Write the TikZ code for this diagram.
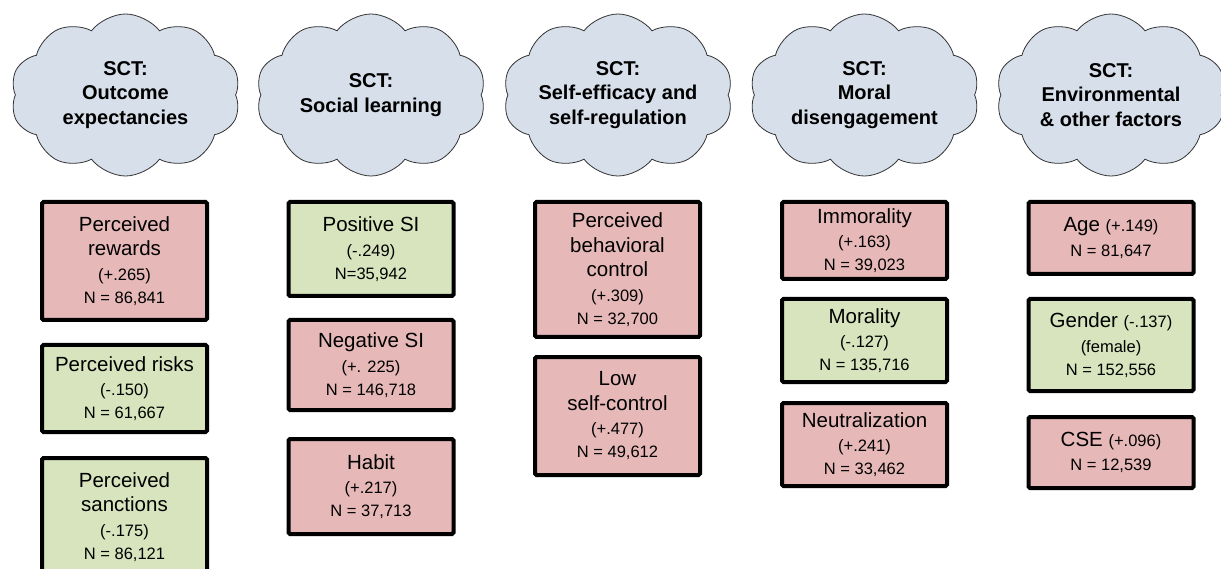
\documentclass[tikz,border=0pt]{standalone}
\usepackage{fontspec}
\setmainfont{Liberation Sans}
\usetikzlibrary{positioning,shapes.symbols}
\definecolor{sctcloud}{RGB}{214,223,234}
\definecolor{sctred}{RGB}{230,185,184}
\definecolor{sctgreen}{RGB}{215,228,189}
\newcommand{\sm}[1]{{\fontsize{16.5}{20}\selectfont #1}}

\begin{document}
\begin{tikzpicture}[x=1pt,y=-1pt,
    every node/.style={align=center},
    theory/.style={cloud,cloud puffs=10,cloud puff arc=105,draw=black!80,line width=0.8pt,fill=sctcloud,
      minimum width=230pt,minimum height=162pt,inner sep=0pt},
    cloudtext/.style={align=center,font=\bfseries\fontsize{20}{24.5}\selectfont},
    factor/.style={draw,line width=4pt,rounded corners=1.5pt,minimum width=165pt,inner sep=2pt,
      font=\fontsize{20.5}{24.5}\selectfont},
    posfx/.style={factor,fill=sctred},
    negfx/.style={factor,fill=sctgreen}]
  \useasboundingbox (0,0) rectangle (1221,569);
  \clip (0,0) rectangle (1221,569);
  % theory clouds
  \node[theory,label={[cloudtext]center:{SCT:\\Outcome\\expectancies}}] (oe) at (125.5,95) {};
  \node[theory,label={[cloudtext]center:{SCT:\\Social learning}}] (sl) at (371,95) {};
  \node[theory,label={[cloudtext]center:{SCT:\\Self-efficacy and\\self-regulation}}] (se) at (618,95) {};
  \node[theory,label={[cloudtext]center:{SCT:\\Moral\\disengagement}}] (md) at (864.5,95) {};
  \node[theory,label={[cloudtext]center:{SCT:\\Environmental\\\& other factors}}] (ev) at (1111,95) {};
  % outcome expectancies
  \node[posfx,minimum height=118pt,anchor=north] (rew) at (124.5,200) {Perceived\\rewards\\\sm{(+.265)}\\[-1.5pt]\sm{N = 86,841}};
  \node[negfx,minimum height=87pt,below=21pt of rew] (risk) {Perceived risks\\\sm{(-.150)}\\[-1.5pt]\sm{N = 61,667}};
  \node[negfx,minimum height=118pt,below=22pt of risk] (sanc) {Perceived\\sanctions\\\sm{(-.175)}\\[-1.5pt]\sm{N = 86,121}};
  % social learning
  \node[negfx,minimum height=94pt,anchor=north] (possi) at (371,200) {Positive SI\\\sm{(-.249)}\\[-1.5pt]\sm{N=35,942}};
  \node[posfx,minimum height=90pt,below=20pt of possi] (negsi) {Negative SI\\\sm{(+. 225)}\\[-1.5pt]\sm{N = 146,718}};
  \node[posfx,minimum height=95pt,below=25pt of negsi] (habit) {Habit\\\sm{(+.217)}\\[-1.5pt]\sm{N = 37,713}};
  % self-efficacy and self-regulation
  \node[posfx,minimum height=135pt,anchor=north] (pbc) at (617.5,200) {Perceived\\behavioral\\control\\\sm{(+.309)}\\[-1.5pt]\sm{N = 32,700}};
  \node[posfx,minimum height=118pt,below=16pt of pbc] (lsc) {Low\\self-control\\\sm{(+.477)}\\[-1.5pt]\sm{N = 49,612}};
  % moral disengagement
  \node[posfx,minimum height=77pt,anchor=north] (immor) at (864.5,200) {Immorality\\\sm{(+.163)}\\[-1.5pt]\sm{N = 39,023}};
  \node[negfx,minimum height=83pt,below=16pt of immor] (moral) {Morality\\\sm{(-.127)}\\[-1.5pt]\sm{N = 135,716}};
  \node[posfx,minimum height=83pt,below=17pt of moral] (neutr) {Neutralization\\\sm{(+.241)}\\[-1.5pt]\sm{N = 33,462}};
  % environmental and other factors
  \node[posfx,minimum height=72pt,anchor=north] (age) at (1111,200) {Age \sm{(+.149)}\\\sm{N = 81,647}};
  \node[negfx,minimum height=92pt,below=21pt of age] (gender) {Gender \sm{(-.137)}\\\sm{(female)}\\[-1.5pt]\sm{N = 152,556}};
  \node[posfx,minimum height=71pt,below=22pt of gender] (cse) {CSE \sm{(+.096)}\\\sm{N = 12,539}};
\end{tikzpicture}
\end{document}
